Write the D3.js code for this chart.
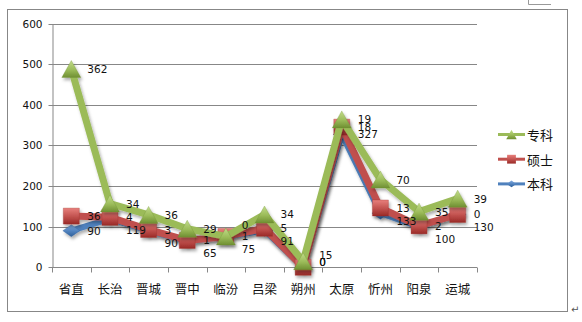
<!DOCTYPE html>
<html>
<head>
<meta charset="utf-8">
<script src="https://cdn.jsdelivr.net/npm/d3@7"></script>
<style>
  body { margin: 0; background: #fff; }
  svg { display: block; }
</style>
</head>
<body>
<svg id="chart" width="582" height="322"></svg>
<script>
// Regions and headcounts per degree level (stacked line chart)
const categories = ["省直", "长治", "晋城", "晋中", "临汾", "吕梁", "朔州", "太原", "忻州", "阳泉", "运城"];
const benke   = [90, 119, 90, 65, 75, 91, 0, 327, 133, 100, 130];   // 本科
const shuoshi = [36, 4, 3, 1, 1, 5, 0, 18, 13, 2, 0];               // 硕士
const zhuanke = [362, 34, 36, 29, 0, 34, 15, 19, 70, 35, 39];       // 专科
const yTicks  = [0, 100, 200, 300, 400, 500, 600];
const seriesNames = ["本科", "硕士", "专科"];

const W = 582, H = 322;
const plot = { left: 52, right: 477, top: 23.5, bottom: 267.3 };

const svg = d3.select("#chart");

const x = d3.scaleBand().domain(categories).range([plot.left, plot.right]);
const y = d3.scaleLinear().domain([0, 600]).range([plot.bottom, plot.top]);
const cx = c => x(c) + x.bandwidth() / 2;

const rows = categories.map((c, i) => ({ cat: c, "本科": benke[i], "硕士": shuoshi[i], "专科": zhuanke[i] }));
const stacked = d3.stack().keys(seriesNames)(rows);

const style = {
  "本科": { line: "#4F81BD", light: "#7FA8DE", dark: "#2E5F99" },
  "硕士": { line: "#C0504D", light: "#E8807C", dark: "#9A2A27" },
  "专科": { line: "#9BBB59", light: "#C2DC8A", dark: "#6F8F32" }
};

const defs = svg.append("defs");
const shadow = defs.append("filter").attr("id", "shadow")
  .attr("x", "-10%").attr("y", "-10%").attr("width", "130%").attr("height", "140%");
shadow.append("feDropShadow").attr("dx", 1.5).attr("dy", 2.5)
  .attr("stdDeviation", 1.6).attr("flood-color", "#000").attr("flood-opacity", 0.32);

seriesNames.forEach(k => {
  const g = defs.append("linearGradient").attr("id", "grad-" + k)
    .attr("x1", 0).attr("y1", 0).attr("x2", 0).attr("y2", 1);
  g.append("stop").attr("offset", "0%").attr("stop-color", style[k].light);
  g.append("stop").attr("offset", "55%").attr("stop-color", style[k].line);
  g.append("stop").attr("offset", "100%").attr("stop-color", style[k].dark);
});

// Outer chart border
svg.append("rect")
  .attr("x", 7.5).attr("y", 9.5).attr("width", 560).attr("height", 302)
  .attr("fill", "#fff").attr("stroke", "#878787").attr("stroke-width", 1);

// Horizontal gridlines
svg.append("g").selectAll("line").data(yTicks).join("line")
  .attr("x1", plot.left).attr("x2", plot.right)
  .attr("y1", d => Math.round(y(d)) + 0.5).attr("y2", d => Math.round(y(d)) + 0.5)
  .attr("stroke", "#878787").attr("stroke-width", 1);

// Y axis
const yAxis = svg.append("g")
  .attr("transform", `translate(${plot.left + 0.5},0)`)
  .call(d3.axisLeft(y).tickValues(yTicks).tickSize(4).tickSizeOuter(0).tickPadding(6));
yAxis.select(".domain").attr("stroke", "#878787");
yAxis.selectAll(".tick line").attr("stroke", "#878787");
yAxis.selectAll(".tick").attr("transform", d => `translate(0,${Math.round(y(d)) + 0.5})`);
yAxis.selectAll("text").attr("fill", "#111")
  .style("font-family", "'DejaVu Sans', Verdana, sans-serif").style("font-size", "10.5px");

// X axis line, boundary ticks and category labels
const xAxis = svg.append("g");
const yBase = Math.round(plot.bottom) + 0.5;
xAxis.append("line")
  .attr("x1", plot.left).attr("x2", plot.right).attr("y1", yBase).attr("y2", yBase)
  .attr("stroke", "#878787");
xAxis.selectAll("line.tick").data(d3.range(categories.length + 1)).join("line")
  .attr("class", "tick")
  .attr("x1", i => Math.round(plot.left + i * x.bandwidth()) + 0.5)
  .attr("x2", i => Math.round(plot.left + i * x.bandwidth()) + 0.5)
  .attr("y1", yBase).attr("y2", yBase + 5)
  .attr("stroke", "#878787");
xAxis.selectAll("text").data(categories).join("text")
  .attr("x", d => cx(d)).attr("y", 288)
  .attr("text-anchor", "middle").attr("dominant-baseline", "central")
  .attr("fill", "#111")
  .style("font-family", "'Noto Sans CJK SC', sans-serif").style("font-size", "12.5px")
  .text(d => d);

// Marker shapes
function markerPath(k, s) {
  if (k === "专科") return `M0,${-8.5 * s}L${9.5 * s},${8.5 * s}L${-9.5 * s},${8.5 * s}Z`;
  if (k === "硕士") return `M${-8 * s},${-8 * s}H${8 * s}V${8 * s}H${-8 * s}Z`;
  return `M0,${-6 * s}L${8.5 * s},0L0,${6 * s}L${-8.5 * s},0Z`;
}

// Series lines and markers (stacked cumulative values)
const line = d3.line().x(d => cx(d.data.cat)).y(d => y(d[1]));
stacked.forEach(layer => {
  const k = layer.key;
  const g = svg.append("g").attr("filter", "url(#shadow)");
  g.append("path").datum(layer)
    .attr("d", line)
    .attr("fill", "none")
    .attr("stroke", style[k].line)
    .attr("stroke-width", k === "本科" ? 6 : 7)
    .attr("stroke-linejoin", "round");
  g.selectAll("path.m").data(layer).join("path")
    .attr("class", "m")
    .attr("transform", d => `translate(${cx(d.data.cat)},${y(d[1])})`)
    .attr("d", markerPath(k, 1))
    .attr("fill", `url(#grad-${k})`)
    .attr("stroke", style[k].dark).attr("stroke-width", 0.6).attr("stroke-opacity", 0.5);
});

// Data labels, placed right of each point; nearly coincident ones are spread apart
const labelG = svg.append("g")
  .style("font-family", "'DejaVu Sans', Verdana, sans-serif").style("font-size", "10.5px");
const maxLabelY = 262;
categories.forEach((c, i) => {
  const pb = y(stacked[0][i][1]), pr = y(stacked[1][i][1]), pg = y(stacked[2][i][1]);
  let lb = pb, lr = pr, lg = pg;
  if (Math.abs(pb - pr) < 6) lb = lr + 13;
  if (Math.abs(pg - pr) < 5) lg = lr - 11;
  lb = Math.min(lb, maxLabelY);
  lr = Math.min(lr, maxLabelY);
  lg = Math.min(lg, maxLabelY, lr - 7);
  const items = [
    { v: benke[i], y: lb },
    { v: shuoshi[i], y: lr },
    { v: zhuanke[i], y: lg }
  ];
  items.forEach(it => {
    labelG.append("text")
      .attr("x", cx(c) + 16).attr("y", it.y)
      .attr("dominant-baseline", "central")
      .attr("fill", "#111")
      .text(it.v);
  });
});

// Legend (reverse stacking order)
const legendItems = ["专科", "硕士", "本科"];
const legend = svg.append("g");
legendItems.forEach((k, j) => {
  const ly = 134.5 + j * 24.7;
  const g = legend.append("g").attr("transform", `translate(0,${ly})`);
  g.append("line").attr("x1", 498).attr("x2", 525).attr("y1", 0).attr("y2", 0)
    .attr("stroke", style[k].line).attr("stroke-width", 3);
  g.append("path").attr("transform", "translate(511.5,0)")
    .attr("d", markerPath(k, 0.55))
    .attr("fill", `url(#grad-${k})`);
  g.append("text").attr("x", 527).attr("y", 0)
    .attr("dominant-baseline", "central").attr("fill", "#111")
    .style("font-family", "'Noto Sans CJK SC', sans-serif").style("font-size", "13px")
    .text(k);
});

// Page marks around the chart frame
svg.append("path").attr("d", "M528.5,0V4.5H551").attr("fill", "none").attr("stroke", "#999");
svg.append("text").attr("x", 571).attr("y", 313).attr("fill", "#555")
  .style("font-family", "'DejaVu Sans', sans-serif").style("font-size", "10px").text("↵");
</script>
</body>
</html>
